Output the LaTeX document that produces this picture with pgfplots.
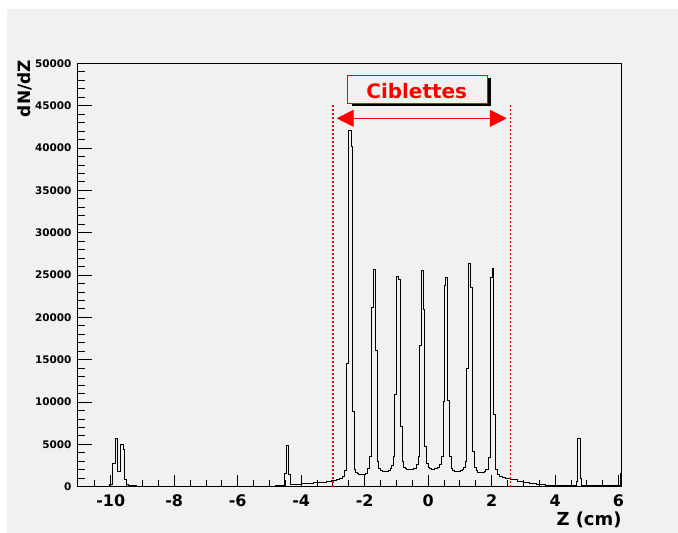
\documentclass[border=0pt]{standalone}
\usepackage{fontspec}
\setmainfont{DejaVu Sans}
\usepackage{pgfplots}
\pgfplotsset{compat=1.18}
\usetikzlibrary{arrows.meta}

\definecolor{canvas}{RGB}{241,241,241}

\begin{document}
\begin{tikzpicture}[x=1bp,y=1bp]
\path[use as bounding box] (0,0) rectangle (678,533);
\fill[canvas] (7,0) rectangle (678,523.5);

\begin{axis}[
	at={(77.7bp,46.3bp)}, anchor=south west,
	scale only axis,
	width=544bp, height=423.4bp,
	xmin=-11.04, xmax=6.1,
	ymin=0, ymax=50000,
	axis line style={line width=1bp},
	tick align=inside,
	xtick pos=bottom, ytick pos=left,
	tick style={black, line width=0.8bp},
	major tick length=14bp, minor tick length=7.5bp,
	xtick style={/pgfplots/major tick length=12bp, /pgfplots/minor tick length=6.5bp},
	xtick={-10,-8,...,6},
	xticklabels={-10,-8,-6,-4,-2,0,2,4,6},
	minor xtick={-10.5,-10,...,6},
	ytick={0,5000,...,50000},
	yticklabels={0,5000,10000,15000,20000,25000,30000,35000,40000,45000,50000},
	minor ytick={0,1000,...,50000},
	xticklabel style={font=\bfseries\fontsize{16}{16}\selectfont, inner sep=0pt, anchor=north, yshift=-7.6bp},
	yticklabel style={font=\bfseries\fontsize{10.5}{10.5}\selectfont, inner sep=0pt, anchor=east, xshift=-6bp},
	scaled y ticks=false,
	]
\addplot[const plot, black, line width=0.9bp] coordinates {
(-11.0,30) (-10.3,40) (-10.08,80) (-10.03,320) (-9.958,2800) (-9.863,5700)
(-9.779,1800) (-9.685,5000) (-9.611,4400) (-9.558,830) (-9.506,300) (-9.453,100)
(-9.2,60) (-8.0,40) (-6.0,50) (-5.2,70) (-4.8,110) (-4.6,160)
(-4.523,1600) (-4.470,4900) (-4.397,1400) (-4.33,300) (-4.2,320) (-4.0,360)
(-3.8,410) (-3.6,460) (-3.4,520) (-3.2,610) (-3.05,720) (-2.9,850)
(-2.78,1030) (-2.70,1250) (-2.62,1900)
(-2.566,14600) (-2.513,42100) (-2.43,40200) (-2.387,8900) (-2.334,2000)
(-2.28,1700) (-2.23,1550) (-2.18,1450) (-2.13,1400) (-2.08,1400) (-2.03,1450)
(-1.97,1600) (-1.91,2100)
(-1.851,3600) (-1.777,21200) (-1.725,25700) (-1.651,16100) (-1.598,3000)
(-1.55,2200) (-1.50,1900) (-1.45,1800) (-1.40,1750) (-1.35,1750) (-1.30,1800)
(-1.25,1900) (-1.20,2100) (-1.146,2500)
(-1.094,3600) (-1.062,10900) (-1.009,24800) (-0.936,24500) (-0.883,7100) (-0.820,3000)
(-0.77,2300) (-0.72,2100) (-0.67,2000) (-0.62,2000) (-0.57,2000) (-0.52,2050)
(-0.47,2100) (-0.42,2200) (-0.36,2600)
(-0.305,3600) (-0.273,16700) (-0.221,25500) (-0.158,20900) (-0.105,4800) (-0.042,2700)
(0.0,2300) (0.05,2100) (0.10,2050) (0.15,2050) (0.20,2100) (0.25,2200)
(0.30,2300) (0.37,2600)
(0.431,3600) (0.484,10100) (0.515,23800) (0.557,24700) (0.620,10200) (0.673,3600)
(0.72,2200) (0.77,1900) (0.82,1800) (0.87,1800) (0.92,1800) (0.97,1850)
(1.02,1900) (1.07,2000) (1.12,2300)
(1.167,3000) (1.220,14000) (1.272,26400) (1.346,23500) (1.409,4200)
(1.46,2300) (1.51,1900) (1.56,1700) (1.61,1650) (1.66,1650) (1.71,1700)
(1.76,1800) (1.82,2000)
(1.893,3400) (1.956,8700) (1.977,24700) (2.019,25800) (2.072,8500) (2.124,2000)
(2.18,1500) (2.25,1250) (2.35,1050) (2.45,920) (2.6,800) (2.8,600)
(3.0,450) (3.2,340) (3.4,260) (3.7,200) (4.0,160) (4.3,140) (4.6,150)
(4.66,630) (4.72,5650) (4.80,1030) (4.84,150) (5.2,110) (5.8,100)
(6.05,1600) (6.1,1600)
};

% target region markers
\draw[red, line width=1.5bp, dash pattern=on 2bp off 2bp] (axis cs:-3,0) -- (axis cs:-3,45100);
\draw[red, line width=1.5bp, dash pattern=on 2bp off 2bp] (axis cs:2.6,0) -- (axis cs:2.6,45100);
\draw[red, line width=1bp, {Triangle[length=17bp,width=17bp]}-{Triangle[length=17bp,width=17bp]}]
	(axis cs:-2.88,43500) -- (axis cs:2.48,43500);
\fill[black] ([xshift=4bp,yshift=-3bp]axis cs:-2.53,45260) rectangle ([xshift=4bp,yshift=-3bp]axis cs:1.87,48570);
\filldraw[fill=canvas, draw=red, line width=1bp] (axis cs:-2.53,45260) rectangle (axis cs:1.87,48570);
\node[red, font=\bfseries\fontsize{20}{20}\selectfont] at (axis cs:-0.36,46680) {Ciblettes};
\end{axis}

\node[rotate=90, anchor=east, inner sep=0pt, font=\bfseries\fontsize{17}{17}\selectfont] at (25,473) {dN/dZ};
\node[anchor=north east, inner sep=0pt, font=\bfseries\fontsize{18}{18}\selectfont] at (621.7,21.3) {Z (cm)};
\end{tikzpicture}
\end{document}
